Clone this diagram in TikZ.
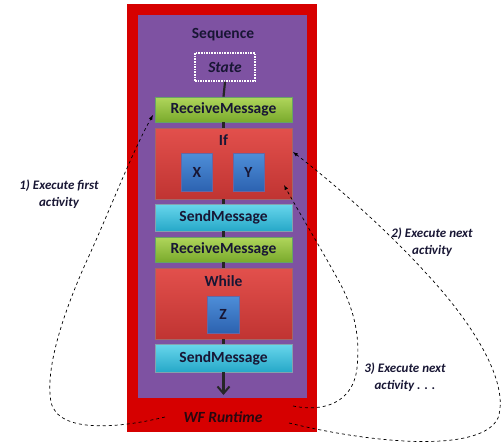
\documentclass[tikz,border=0pt]{standalone}
\usepackage{fontspec}
\setmainfont{Carlito}
\usetikzlibrary{arrows.meta}

\definecolor{wfred}{RGB}{214,0,0}
\definecolor{seqpurple}{RGB}{126,82,162}
\definecolor{inktext}{RGB}{24,22,52}

\tikzset{
  act/.style={rectangle, minimum width=137pt, minimum height=25pt, inner sep=0pt,
    font=\bfseries\fontsize{15.5}{17}\selectfont, text=inktext, line width=0.6pt},
  recvbox/.style={act, draw=green!40!black!60, top color={rgb,255:red,176;green,214;blue,92}, bottom color={rgb,255:red,122;green,170;blue,44}},
  sendbox/.style={act, draw=cyan!40!black!60, top color={rgb,255:red,104;green,214;blue,236}, bottom color={rgb,255:red,38;green,168;blue,200}},
  compbox/.style={act, minimum height=71pt, anchor=center, text depth=0pt,
    draw=red!40!black!60, top color={rgb,255:red,226;green,80;blue,76}, bottom color={rgb,255:red,192;green,52;blue,50}},
  leafbox/.style={rectangle, minimum width=31pt, minimum height=38pt, inner sep=0pt,
    font=\bfseries\fontsize{15.5}{17}\selectfont, text=inktext, line width=0.6pt,
    draw=blue!40!black!60, top color={rgb,255:red,78;green,142;blue,216}, bottom color={rgb,255:red,44;green,98;blue,176}},
  steplabel/.style={align=center, font=\bfseries\itshape\fontsize{13}{17}\selectfont, text=inktext},
  seqline/.style={line width=2.2pt, black!85},
  flow/.style={dashed, line width=0.7pt, -latex}
}

\begin{document}
\begin{tikzpicture}[x=1pt,y=-1pt]
\useasboundingbox (0,0) rectangle (502,445);

% runtime and sequence frames
\fill [wfred] (127,4) rectangle (317,432);
\fill [seqpurple] (138,15) rectangle (307,398);

\node [font=\bfseries\fontsize{15.5}{17}\selectfont, text=inktext] (seq) at (223,35) {Sequence};
\node [draw=white, densely dotted, line width=1.6pt, minimum width=60pt, minimum height=28pt,
  font=\bfseries\itshape\fontsize{15.5}{17}\selectfont, text=inktext] (state) at (225,67) {State};

% activities
\node [recvbox] (recvA) at (223.5,109.5) {ReceiveMessage};
\node [compbox, minimum height=71pt] (iff) at (223.5,163.5) {};
\node [font=\bfseries\fontsize{15.5}{17}\selectfont, text=inktext] at (223.5,140) {If};
\node [leafbox] (x) at (197,172.5) {X};
\node [leafbox] (y) at (248.5,172.5) {Y};
\node [sendbox, minimum height=27pt] (sendA) at (223.5,217.5) {SendMessage};
\node [recvbox] (recvB) at (223.5,249.5) {ReceiveMessage};
\node [compbox] (while) at (223.5,303.5) {};
\node [font=\bfseries\fontsize{15.5}{17}\selectfont, text=inktext] at (223.5,281) {While};
\node [leafbox, minimum width=32pt, minimum height=37pt] (z) at (223,314.5) {Z};
\node [sendbox, minimum height=28pt] (sendB) at (223.5,358) {SendMessage};

\node [font=\bfseries\itshape\fontsize{15.5}{17}\selectfont, text={rgb,255:red,40;green,8;blue,16}] (wf) at (223,417) {WF Runtime};

% sequence line
\coordinate (seqend) at (223.5,395);
\draw [seqline] (state.south) -- (recvA.north);
\draw [seqline] (recvA.south) -- (iff.north);
\draw [seqline] (iff.south) -- (sendA.north);
\draw [seqline] (sendA.south) -- (recvB.north);
\draw [seqline] (recvB.south) -- (while.north);
\draw [seqline] (while.south) -- (sendB.north);
\draw [seqline, -{Straight Barb[length=7pt,width=12pt,line width=2pt]}] (sendB.south) -- (seqend);

% scheduling loops
\coordinate (startA) at (165,417);
\coordinate (startB) at (289,423);
\coordinate (startC) at (293,406);
\coordinate (hitA) at (153,115);
\coordinate (hitB) at (293,152);
\coordinate (hitC) at (284,185);

\draw [flow] (startA) .. controls (120,428) and (58,434) .. (51,402)
  .. controls (45,370) and (62,315) .. (88,258)
  .. controls (110,210) and (132,152) .. (hitA);
\draw [flow] (startB) .. controls (380,445) and (482,452) .. (498,418)
  .. controls (510,382) and (472,322) .. (425,272)
  .. controls (385,228) and (332,182) .. (hitB);
\draw [flow] (startC) .. controls (322,412) and (353,404) .. (357,368)
  .. controls (361,330) and (351,302) .. (336,276)
  .. controls (316,240) and (300,214) .. (hitC);

\node [steplabel] (first) at (59,194) {1)~Execute first\\activity};
\node [steplabel] (next) at (432,242) {2)~Execute next\\activity};
\node [steplabel] (more) at (405,377) {3)~Execute next\\activity . . .};

\end{tikzpicture}
\end{document}
